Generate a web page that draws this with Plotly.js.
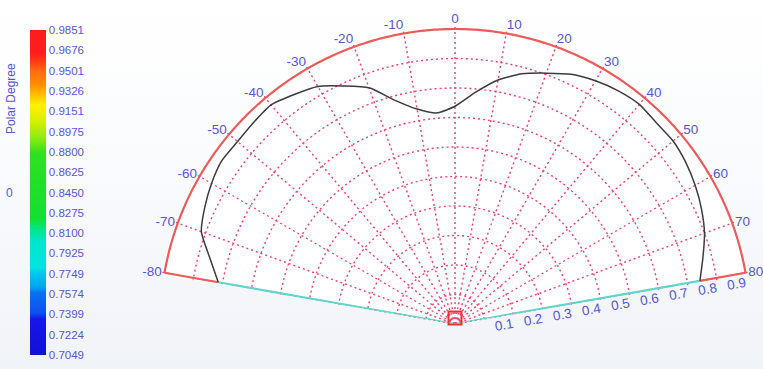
<!DOCTYPE html>
<html>
<head>
<meta charset="utf-8">
<script src="https://cdn.plot.ly/plotly-3.0.1.min.js"></script>
<style>
  html, body { margin: 0; padding: 0; }
  body { width: 763px; height: 369px; overflow: hidden;
         background: linear-gradient(to bottom, #ffffff 0%, #fafbfd 45%, #f0f3f8 100%); }
  #chart { width: 763px; height: 369px; }
</style>
</head>
<body>
<div id="chart"></div>
<script>
// Emission angle (degrees, 0 = normal) and measured polar degree at each angle
const angles = [-80, -75, -70, -65, -60, -55, -50, -45, -40, -35, -30, -25, -20, -15, -10, -5,
                0, 5, 10, 15, 20, 25, 30, 35, 40, 45, 50, 55, 60, 65, 70, 75, 80];
const polarDegree = [0.815, 0.860, 0.915, 0.936, 0.953, 0.965, 0.962, 0.966, 0.970, 0.950, 0.930,
                     0.890, 0.852, 0.785, 0.740, 0.718, 0.738, 0.788, 0.840, 0.878, 0.905, 0.934,
                     0.952, 0.965, 0.972, 0.965, 0.965, 0.955, 0.940, 0.922, 0.900, 0.870, 0.843];

// Angular and radial tick labels
const angleTicks = [-80, -70, -60, -50, -40, -30, -20, -10, 0, 10, 20, 30, 40, 50, 60, 70, 80];
const angleTickText = angleTicks.map(v => String(v));
const radialTicks = [0.1, 0.2, 0.3, 0.4, 0.5, 0.6, 0.7, 0.8, 0.9];
// radial labels sit just after their tick along the edge: pad them on the left
const radialTickText = radialTicks.map(v => '\u00a0'.repeat(10) + v.toFixed(1));

// Colour bar scale
const scaleMin = 0.7049;
const scaleMax = 0.9851;
const scaleTicks = [0.7049, 0.7224, 0.7399, 0.7574, 0.7749, 0.7925, 0.8100, 0.8275, 0.8450,
                    0.8625, 0.8800, 0.8975, 0.9151, 0.9326, 0.9501, 0.9676, 0.9851];
const scaleTickText = scaleTicks.map(v => v.toFixed(4));

const labelBlue = '#5656d4';
const gridRed = '#f0406e';
const edgeRed = '#ee5a5a';
const edgeCyan = '#5ed6cc';

const colorscale = [
  [0.00, '#1212d8'], [0.11, '#1616e6'], [0.13, '#0b52ee'], [0.19, '#0b70f0'],
  [0.21, '#00a6f0'], [0.25, '#00c6ee'], [0.27, '#00e4e0'], [0.35, '#00e6cc'],
  [0.39, '#00e680'], [0.42, '#12e030'], [0.62, '#30e020'], [0.67, '#90ec10'],
  [0.72, '#d8f000'], [0.77, '#fff000'], [0.80, '#ffc000'], [0.83, '#ff9000'],
  [0.87, '#ff7010'], [0.90, '#ff4010'], [0.93, '#ff1c1c'], [1.00, '#ff1c1c']
];

const first = 0, last = angles.length - 1;
const thetaMin = angles[first], thetaMax = angles[last];

// outer rim of the sector, sampled every half degree
const rimTheta = [];
for (let t = thetaMin; t <= thetaMax; t += 0.5) rimTheta.push(t);
const rimR = rimTheta.map(() => 1);

function frameLine(theta, r, color, width) {
  return { type: 'scatterpolar', mode: 'lines', theta: theta, r: r,
           line: { color: color, width: width }, hoverinfo: 'skip' };
}

const traces = [
  // outer rim
  frameLine(rimTheta, rimR, edgeRed, 2.2),
  // straight sector edges: cyan inside the curve, red outside it
  frameLine([thetaMin, thetaMin], [0, polarDegree[first]], edgeCyan, 2.2),
  frameLine([thetaMin, thetaMin], [polarDegree[first], 1], edgeRed, 2.2),
  frameLine([thetaMax, thetaMax], [0, polarDegree[last]], edgeCyan, 2.2),
  frameLine([thetaMax, thetaMax], [polarDegree[last], 1], edgeRed, 2.2),
  // pole marker
  { type: 'scatterpolar', mode: 'markers', theta: [0], r: [0.02],
    marker: { symbol: 'square-open', size: 13, color: '#f03030', line: { width: 2, color: '#f03030' } },
    hoverinfo: 'skip' },
  // measured curve
  { type: 'scatterpolar', mode: 'lines', theta: angles, r: polarDegree,
    line: { color: '#3c3c3c', width: 1.5, shape: 'spline', smoothing: 0.6 }, name: 'Polar Degree' },
  // colour bar carrier
  { type: 'scatterpolar', mode: 'markers', theta: angles, r: polarDegree,
    hoverinfo: 'skip',
    marker: {
      size: 0.1, opacity: 0, color: polarDegree, colorscale: colorscale,
      cmin: scaleMin, cmax: scaleMax, showscale: true,
      colorbar: {
        x: 30 / 763, xanchor: 'left', xref: 'paper',
        y: 1 - 192.5 / 369, yanchor: 'middle', yref: 'paper',
        len: 325, lenmode: 'pixels', thickness: 16, thicknessmode: 'pixels',
        outlinewidth: 0, ticks: '', ticklabelposition: 'outside',
        tickvals: scaleTicks, ticktext: scaleTickText,
        tickfont: { family: 'Liberation Sans, Arial, sans-serif', size: 11.5, color: labelBlue },
        xpad: 0, ypad: 0
      }
    } }
];

// plot area is a hair larger than the drawn frame so the frame lines are not clipped
const rMax = 1.008;
const unitPx = 295, poleX = 455, poleY = 324;
const halfW = rMax * Math.cos(9.5 * Math.PI / 180) * unitPx;

const layout = {
  width: 763, height: 369,
  margin: { l: 0, r: 0, t: 0, b: 0 },
  paper_bgcolor: 'rgba(0,0,0,0)',
  showlegend: false,
  font: { family: 'Liberation Sans, Arial, sans-serif', color: labelBlue },
  polar: {
    domain: { x: [(poleX - halfW) / 763, (poleX + halfW) / 763],
              y: [1 - poleY / 369, 1 - (poleY - rMax * unitPx) / 369] },
    sector: [9.5, 170.5],
    bgcolor: '#ffffff',
    angularaxis: {
      direction: 'clockwise', rotation: 90, thetaunit: 'degrees',
      tickmode: 'array', tickvals: angleTicks, ticktext: angleTickText,
      ticks: '', showline: false, layer: 'below traces',
      showgrid: true, gridcolor: gridRed, gridwidth: 1.4, griddash: '2px,3px',
      tickfont: { size: 13.5, color: labelBlue }
    },
    radialaxis: {
      range: [0, rMax], angle: 10, side: 'clockwise', layer: 'below traces',
      tickmode: 'array', tickvals: radialTicks, ticktext: radialTickText, ticks: '', tickangle: 0,
      showline: false, showgrid: true, gridcolor: gridRed, gridwidth: 1.4, griddash: '2px,3px',
      tickfont: { size: 13.5, color: labelBlue }
    }
  },
  annotations: [
    { text: 'Polar Degree', xref: 'paper', yref: 'paper', x: 11 / 763, y: 1 - 99 / 369,
      xanchor: 'center', yanchor: 'middle',
      textangle: -90, showarrow: false, font: { size: 12, color: labelBlue } },
    { text: '0', xref: 'paper', yref: 'paper', x: 9 / 763, y: 1 - 193 / 369,
      xanchor: 'center', yanchor: 'middle',
      showarrow: false, font: { size: 12, color: labelBlue } }
  ]
};

Plotly.newPlot('chart', traces, layout, { staticPlot: true, displayModeBar: false });
</script>
</body>
</html>
